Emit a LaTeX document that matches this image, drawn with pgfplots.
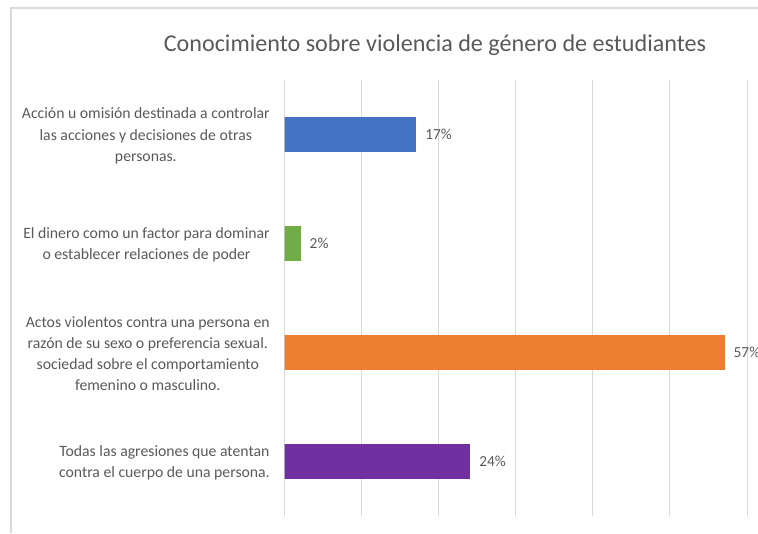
\documentclass[border=0pt]{standalone}
\usepackage{pgfplots}
\pgfplotsset{compat=1.18}
\usepackage{fontspec}
\setmainfont{Carlito}
\definecolor{txt}{HTML}{595959}
\definecolor{gridc}{HTML}{D9D9D9}
\definecolor{cblue}{HTML}{4472C4}
\definecolor{cgreen}{HTML}{70AD47}
\definecolor{corange}{HTML}{ED7D31}
\definecolor{cpurple}{HTML}{7030A0}
\begin{document}
\begin{tikzpicture}
\useasboundingbox (0,0) rectangle (568.5pt,399.75pt);
\draw[gridc, line width=0.9pt] (8.25pt,0pt) -- (8.25pt,393.75pt) -- (568.5pt,393.75pt);
\node[txt, font=\fontsize{18.1}{21}\selectfont] at (326.25pt,365.5pt) {Conocimiento sobre violencia de género de estudiantes};
\begin{axis}[
  at={(213.4pt,12.75pt)}, anchor=south west,
  scale only axis, width=346.9pt, height=327pt,
  xbar, bar width=0.31, bar shift=0pt,
  xmin=0, xmax=60, ymin=-0.5, ymax=3.5, y dir=reverse,
  xtick={0,10,...,60}, xticklabels={},
  xmajorgrids, grid style={gridc, line width=0.75pt},
  axis line style={draw=none}, major tick length=0pt,
  /pgf/number format/assume math mode=true,
  ytick={0,1,2,3},
  yticklabels={
    {Acción u omisión destinada a controlar\\las acciones y decisiones de otras\\personas.},
    {El dinero como un factor para dominar\\o establecer relaciones de poder},
    {Actos violentos contra una persona en\\razón de su sexo o preferencia sexual.\\sociedad sobre el comportamiento\\femenino o masculino.},
    {Todas las agresiones que atentan\\contra el cuerpo de una persona.}},
  yticklabel style={align=center, inner sep=0pt, xshift=-10.9pt, yshift=-1pt, text=txt, font=\fontsize{11.8}{15.8}\selectfont},
  nodes near coords={\pgfmathprintnumber{\pgfplotspointmeta}\%},
  nodes near coords style={text=txt, font=\fontsize{11.5}{13}\selectfont, anchor=west, xshift=3.8pt},
  point meta=x,
]
\addplot[fill=cblue, draw=cblue] coordinates {(17,0)};
\addplot[fill=cgreen, draw=cgreen] coordinates {(2,1)};
\addplot[fill=corange, draw=corange] coordinates {(57,2)};
\addplot[fill=cpurple, draw=cpurple] coordinates {(24,3)};
\end{axis}
\end{tikzpicture}
\end{document}
